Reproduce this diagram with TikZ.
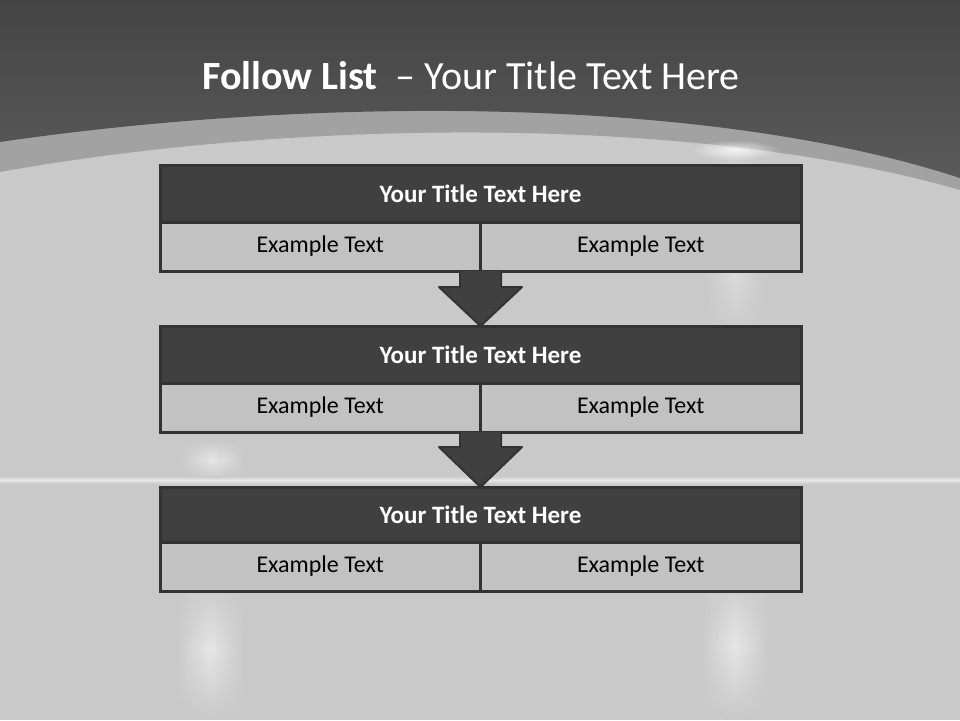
\documentclass[tikz,border=0pt]{standalone}
\usepackage{fontspec}
\setmainfont{Carlito}
\usetikzlibrary{calc,fadings}
\definecolor{topdark}{HTML}{5A5A5A}
\definecolor{topdarker}{HTML}{444444}
\definecolor{band}{HTML}{A2A2A2}
\definecolor{bgl}{HTML}{C9C9C9}
\definecolor{bglight}{HTML}{E6E6E6}
\definecolor{edge}{HTML}{333333}
\definecolor{titlefill}{HTML}{404040}
\definecolor{cellfill}{HTML}{C2C2C2}
\tikzfading[name=vfade, top color=transparent!100, bottom color=transparent!100, middle color=transparent!0]
\tikzfading[name=glowfade, inner color=transparent!0, outer color=transparent!100]
\tikzset{
  titlerow/.style={draw=edge, line width=3pt, fill=titlefill, text=white, outer sep=0pt,
    font=\fontsize{25}{30}\selectfont\bfseries, minimum width=641pt, inner sep=0pt, anchor=north},
  cellrow/.style={draw=edge, line width=3pt, fill=cellfill, text=black, outer sep=0pt,
    font=\fontsize{24}{29}\selectfont, minimum width=320.5pt, minimum height=49pt, inner sep=0pt},
  downarrow/.style={draw=edge, line width=2pt, fill=titlefill, line join=round},
  streak/.style={left color=bgl, right color=bgl, middle color=bglight, draw=none, path fading=vfade}
}
\begin{document}
\begin{tikzpicture}[x=1pt,y=-1pt]
\useasboundingbox (0,0) rectangle (960,720);
% background
\fill[bgl] (0,0) rectangle (960,720);
\shade[streak] (705,130) rectangle (765,340);
\shade[streak] (700,570) rectangle (770,720);
\shade[streak] (180,440) rectangle (245,480);
\shade[streak] (175,580) rectangle (245,720);
\shade[top color=bgl, bottom color=bgl, middle color=bglight] (0,476) rectangle (960,484);
% top band
\fill[band] (0,0) -- (960,0) -- (960,190) .. controls (700,115) and (300,118) .. (0,172) -- cycle;
\fill[white, opacity=0.75, path fading=glowfade] (735,150) ellipse [x radius=45, y radius=10];
\shade[top color=topdarker, bottom color=topdark] (0,0) -- (960,0) -- (960,178) .. controls (700,93) and (300,98) .. (0,142) -- cycle;
% title
\node[text=white, font=\fontsize{40}{46}\selectfont] (title) at (471,76)
  {\textbf{Follow List}\ \ – Your Title Text Here};
% box 1
\node[titlerow, minimum height=57pt] (t1) at (480.5,165) {Your Title Text Here};
\node[cellrow, anchor=north east] (l1) at (t1.south) {Example Text};
\node[cellrow, anchor=north west] (r1) at (t1.south) {Example Text};
% box 2
\node[titlerow, minimum height=57pt] (t2) at (480.5,326) {Your Title Text Here};
\node[cellrow, anchor=north east] (l2) at (t2.south) {Example Text};
\node[cellrow, anchor=north west] (r2) at (t2.south) {Example Text};
% box 3
\node[titlerow, minimum height=55pt] (t3) at (480.5,487) {Your Title Text Here};
\node[cellrow, anchor=north east] (l3) at (t3.south) {Example Text};
\node[cellrow, anchor=north west] (r3) at (t3.south) {Example Text};
% arrows
\draw[downarrow] ($(l1.south east)+(-20.5,0)$) -- ($(l1.south east)+(-20.5,16)$)
  -- ($(l1.south east)+(-41.5,16)$) -- (t2.north) -- ($(l1.south east)+(41.5,16)$)
  -- ($(l1.south east)+(20.5,16)$) -- ($(l1.south east)+(20.5,0)$);
\draw[downarrow] ($(l2.south east)+(-20.5,0)$) -- ($(l2.south east)+(-20.5,15)$)
  -- ($(l2.south east)+(-41.5,15)$) -- (t3.north) -- ($(l2.south east)+(41.5,15)$)
  -- ($(l2.south east)+(20.5,15)$) -- ($(l2.south east)+(20.5,0)$);
\end{tikzpicture}
\end{document}
